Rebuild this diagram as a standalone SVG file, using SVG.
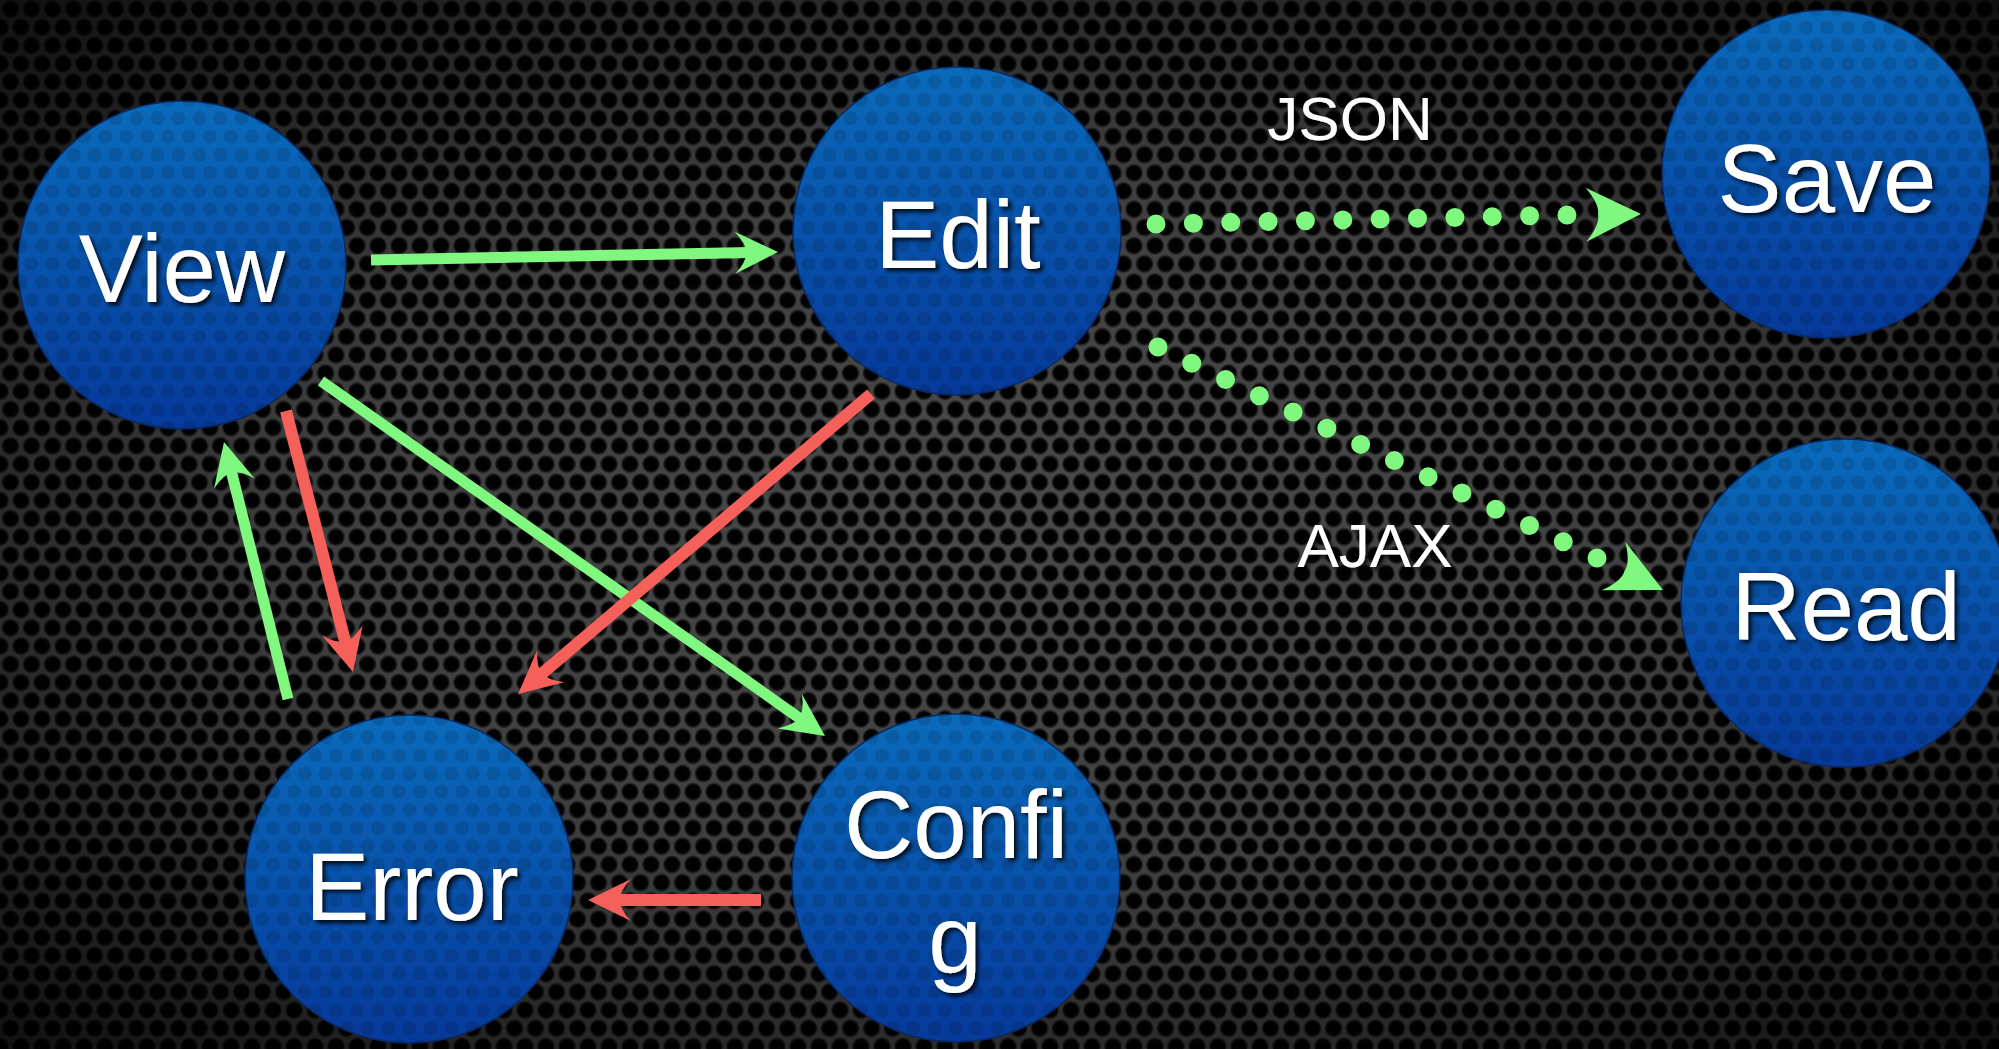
<svg xmlns="http://www.w3.org/2000/svg" xmlns:xlink="http://www.w3.org/1999/xlink" width="1999" height="1049" viewBox="0 0 1999 1049">
<defs>
<radialGradient id="holeG" cx="0.5" cy="0.5" r="0.5">
<stop offset="0" stop-color="#000"/>
<stop offset="0.7" stop-color="#030303"/>
<stop offset="1" stop-color="#030303" stop-opacity="0"/>
</radialGradient>
<pattern id="mesh" x="0" y="0" width="21" height="36.4" patternUnits="userSpaceOnUse">
<rect width="21" height="36.4" fill="#4a4a4a"/>
<circle cx="10.5" cy="9.1" r="9.6" fill="url(#holeG)"/>
<circle cx="0" cy="27.3" r="9.6" fill="url(#holeG)"/>
<circle cx="21" cy="27.3" r="9.6" fill="url(#holeG)"/>
</pattern>
<pattern id="meshN" x="0" y="0" width="21" height="36.4" patternUnits="userSpaceOnUse">
<circle cx="10.5" cy="9.1" r="7" fill="#000"/>
<circle cx="0" cy="27.3" r="7" fill="#000"/>
<circle cx="21" cy="27.3" r="7" fill="#000"/>
</pattern>
<radialGradient id="vig" cx="0.5" cy="0.5" r="0.75">
<stop offset="0" stop-color="#000" stop-opacity="0"/>
<stop offset="0.45" stop-color="#000" stop-opacity="0.15"/>
<stop offset="1" stop-color="#000" stop-opacity="0.85"/>
</radialGradient>
<linearGradient id="blue" x1="0" y1="0" x2="0" y2="1">
<stop offset="0" stop-color="#0a6bbb"/>
<stop offset="1" stop-color="#06399a"/>
</linearGradient>
<filter id="tsh" x="-20%" y="-20%" width="140%" height="150%">
<feDropShadow dx="3" dy="3" stdDeviation="2" flood-color="#000" flood-opacity="0.85"/>
</filter>
<path id="hs" d="M0,0 L-43,-21 Q-31,-8 -32,0 Q-31,8 -43,21 Z"/>
<path id="hd" d="M0,0 L-55,-27 Q-41,-10 -43,0 Q-41,10 -55,27 Z"/>
<style>
.node circle.b { fill: url(#blue); stroke: #082a66; stroke-width: 1.5; }
.node circle.t { fill: url(#meshN); opacity: 0.12; }
.lbl { font-family: "Liberation Sans", Arial, sans-serif; font-size: 96px; fill: #fff; text-anchor: middle; filter: url(#tsh); }
.elbl { font-family: "Liberation Sans", Arial, sans-serif; font-size: 62px; fill: #fff; text-anchor: middle; filter: url(#tsh); }
.g { stroke: #80f77f; stroke-width: 11; fill: none; stroke-linecap: butt; }
.r { stroke: #f5605b; stroke-width: 12; fill: none; stroke-linecap: butt; }
.gh { fill: #80f77f; }
.rh { fill: #f5605b; }
.dot { stroke: #80f77f; stroke-width: 19; fill: none; stroke-linecap: round; }
</style>
</defs>
<rect width="1999" height="1049" fill="url(#mesh)"/>
<rect width="1999" height="1049" fill="url(#vig)"/>

<g id="connectors">
<path class="g" d="M371,260 L750,252.6"/>
<use href="#hs" class="gh" transform="translate(778,252) rotate(-1.13)"/>
<path class="g" d="M321,381 L802.1,719.9"/>
<use href="#hs" class="gh" transform="translate(825,736) rotate(35.16)"/>
<path class="g" d="M288,699 L230.8,469.2"/>
<use href="#hs" class="gh" transform="translate(224,442) rotate(-104.02)"/>
<path class="r" d="M286,411 L346,644.9"/>
<use href="#hs" class="rh" transform="translate(353,672) rotate(75.6)"/>
<path class="r" d="M871,394 L539.3,675.9"/>
<use href="#hs" class="rh" transform="translate(518,694) rotate(139.64)"/>
<path class="r" d="M761,900 L616,900"/>
<use href="#hs" class="rh" transform="translate(588,900) rotate(180)"/>
<path class="dot" stroke-dasharray="0 37.37" d="M1156,224 L1569,214.95"/>
<use href="#hd" class="gh" transform="translate(1641,214) rotate(-0.8)"/>
<path class="dot" stroke-dasharray="0 37.47" d="M1158,347 L1599,558.96"/>
<use href="#hd" class="gh" transform="translate(1663,590) rotate(25.9)"/>
<text class="elbl" x="1350" y="140">JSON</text>
<text class="elbl" x="1375" y="567">AJAX</text>
</g>

<g id="node-view" class="node">
<circle class="b" cx="182" cy="265" r="164"/>
<circle class="t" cx="182" cy="265" r="164"/>
<text class="lbl" x="182" y="302">View</text>
</g>
<g id="node-edit" class="node">
<circle class="b" cx="957" cy="231" r="164"/>
<circle class="t" cx="957" cy="231" r="164"/>
<text class="lbl" x="958" y="268">Edit</text>
</g>
<g id="node-save" class="node">
<circle class="b" cx="1826" cy="174" r="164"/>
<circle class="t" cx="1826" cy="174" r="164"/>
<text class="lbl" x="1827" y="212">Save</text>
</g>
<g id="node-read" class="node">
<circle class="b" cx="1845" cy="603" r="164"/>
<circle class="t" cx="1845" cy="603" r="164"/>
<text class="lbl" x="1846" y="640">Read</text>
</g>
<g id="node-error" class="node">
<circle class="b" cx="409" cy="879" r="164"/>
<circle class="t" cx="409" cy="879" r="164"/>
<text class="lbl" x="412" y="920">Error</text>
</g>
<g id="node-config" class="node">
<circle class="b" cx="956" cy="878" r="164"/>
<circle class="t" cx="956" cy="878" r="164"/>
<text class="lbl" x="956" y="858">Confi</text>
<text class="lbl" x="955" y="973">g</text>
</g>
</svg>
